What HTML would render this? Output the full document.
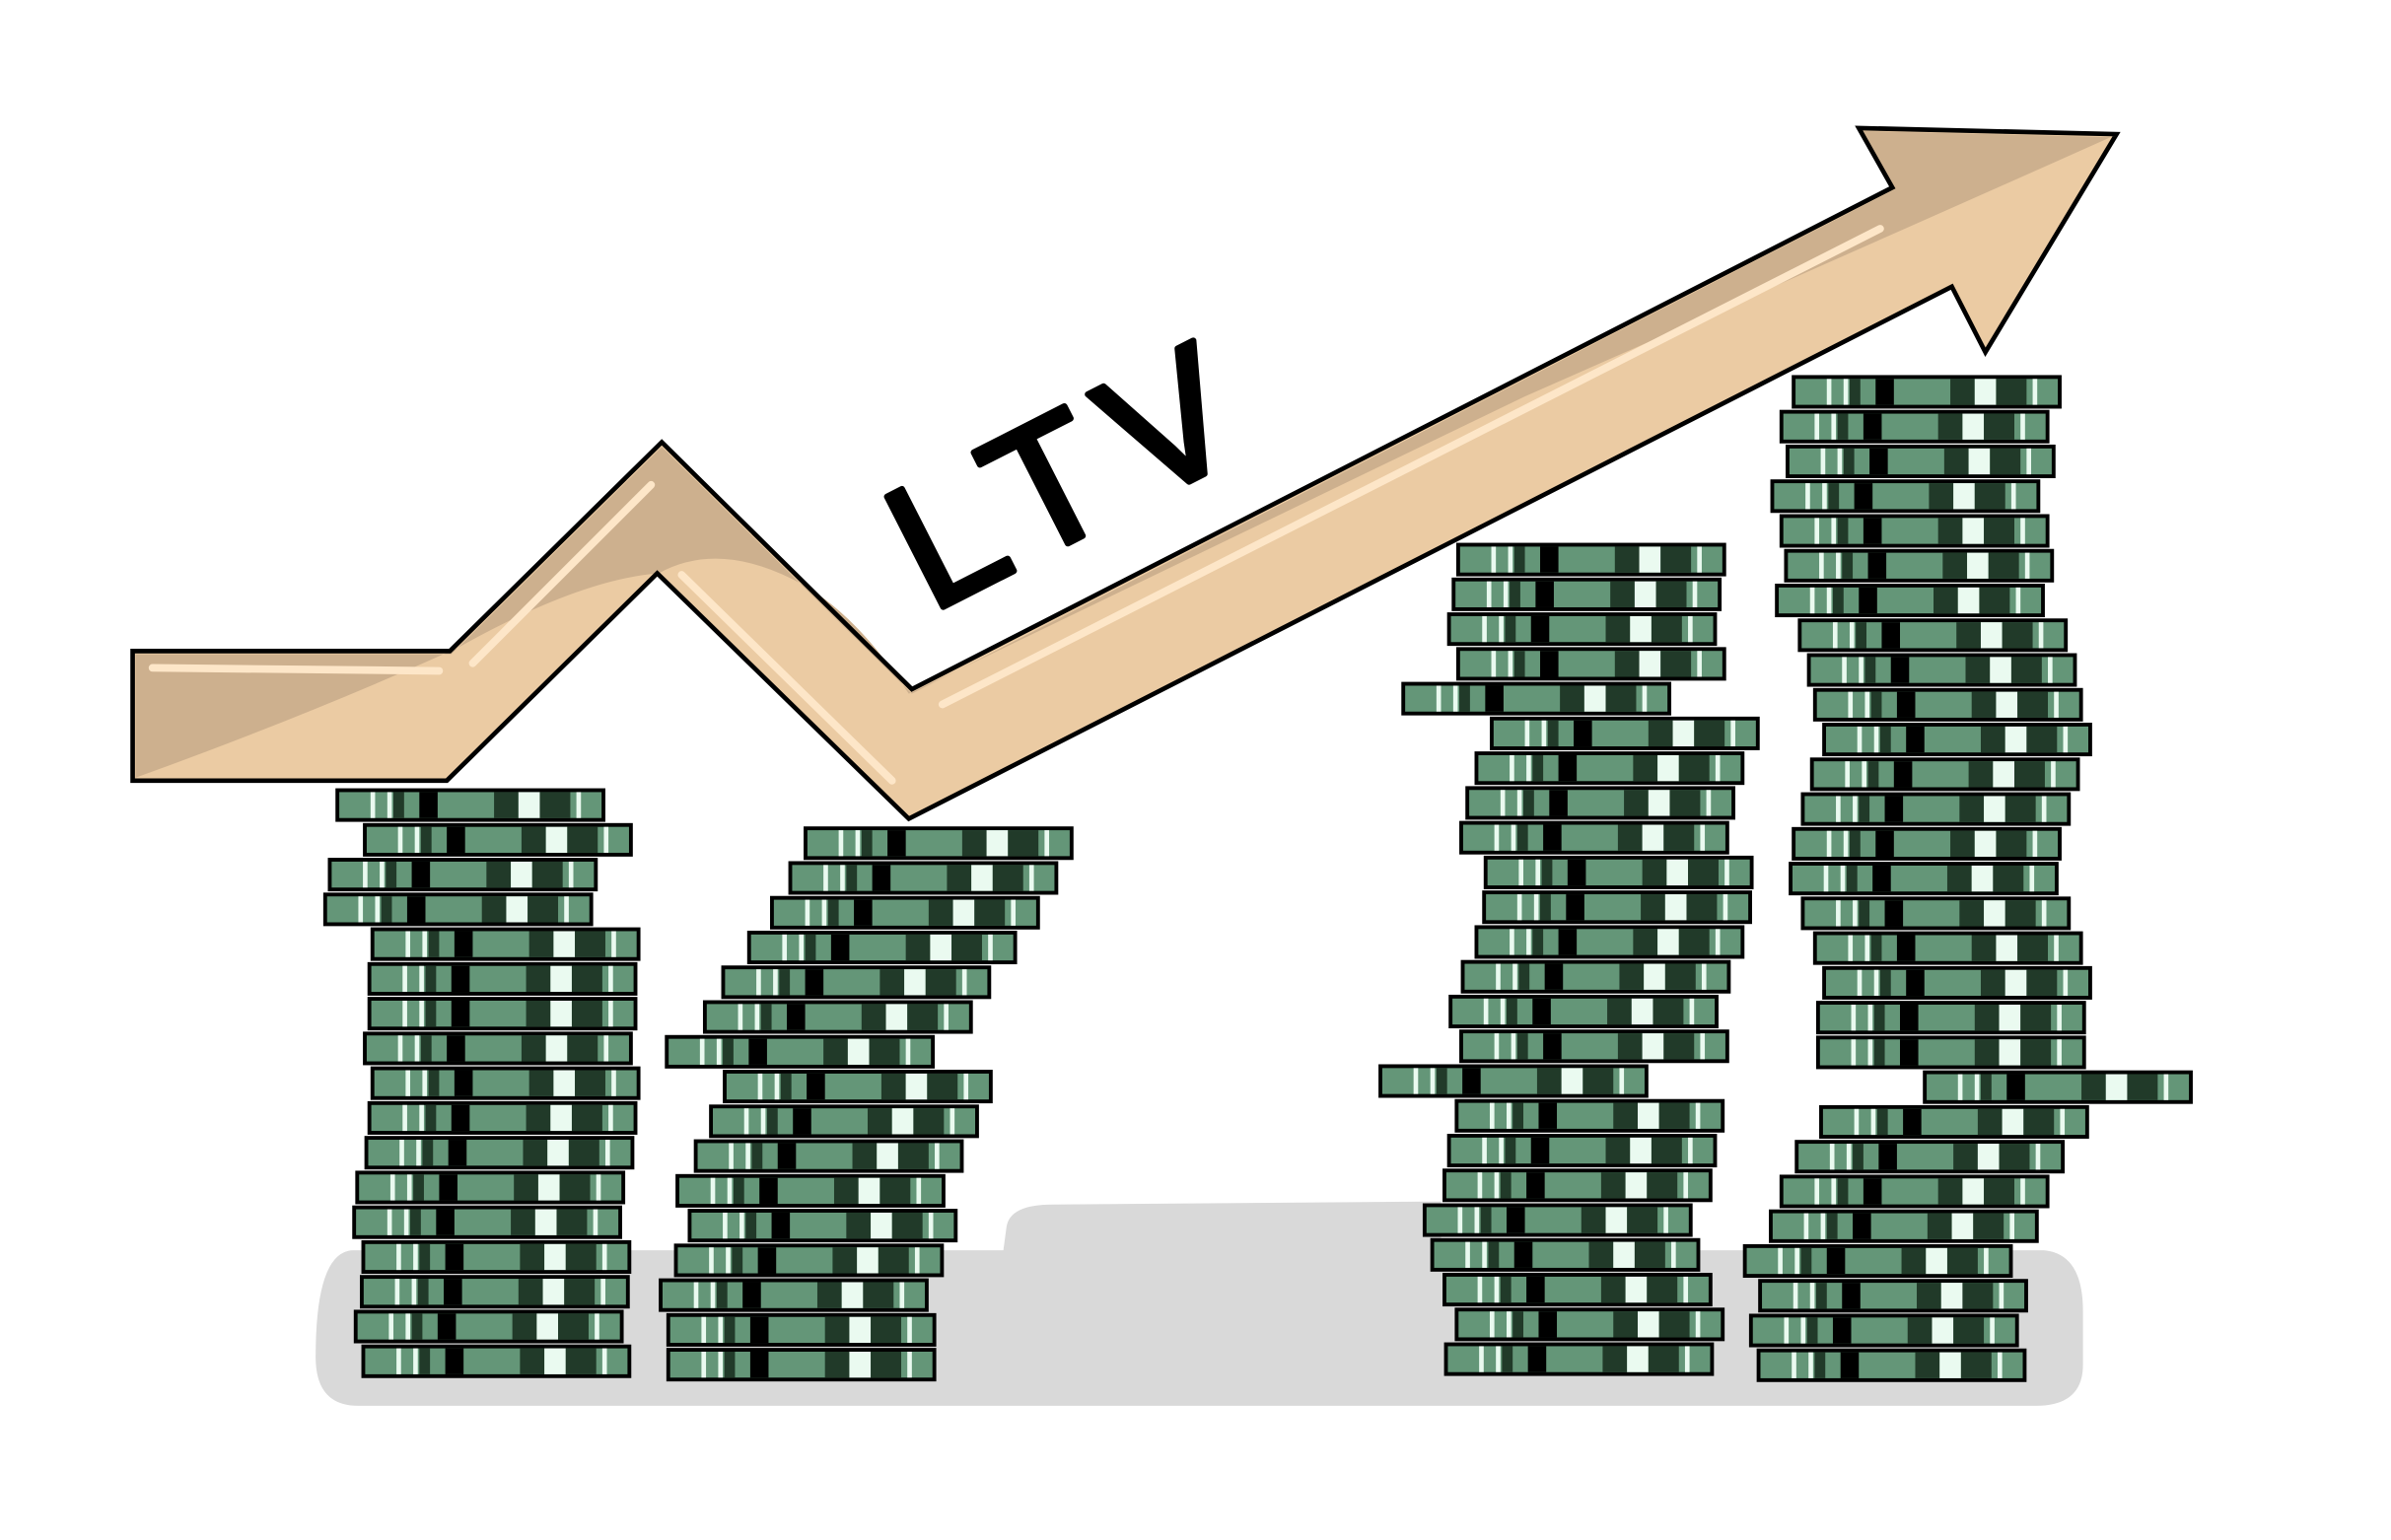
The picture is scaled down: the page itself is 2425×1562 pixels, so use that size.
<!DOCTYPE html>
<html><head><meta charset="utf-8"><style>
html,body{margin:0;padding:0;background:#fff;}
svg{display:block;}
</style></head><body>
<svg id="art" width="2425" height="1562" viewBox="0 0 1568 1010" preserveAspectRatio="none" xmlns="http://www.w3.org/2000/svg">
  <path fill="#d9d9d9" d="M232,820 L658,820 L660,805 Q662,790 690,790 L945,788 L945,820 L1340,820 Q1366,822 1366,860 L1366,895 Q1366,922 1335,922 L235,922 Q207,922 207,890 Q207,820 232,820 Z"/>
  <g id="stacks"></g>
  <g>
    <path fill="#ebcba3" d="M87,427 L295,427 L434,290 L598,452 L1241,123 L1219,84 L1388,88 L1302,231 L1280,188 L596,537 L431,376 L293,512 L87,512 Z"/>
    <path fill="#cdb08e" d="M89,429 L296,429 L434,293 L598,455 L1243,124 L1222,86 L1384,90 Q1250,150 1000,260 L596,455 Q560,400 520,380 Q470,355 432,376 Q380,380 300,425 Q200,470 89,510 Z"/>
    <path fill="none" stroke="#000" stroke-width="3" stroke-linejoin="miter" d="M87,427 L295,427 L434,290 L598,452 L1241,123 L1219,84 L1388,88 L1302,231 L1280,188 L596,537 L431,376 L293,512 L87,512 Z"/>
    <g stroke="#fde6c8" stroke-width="5" stroke-linecap="round" fill="none">
      <line x1="100" y1="438" x2="288" y2="440"/>
      <line x1="310" y1="435" x2="427" y2="318"/>
      <line x1="447" y1="377" x2="585" y2="512"/>
      <line x1="618" y1="462" x2="1233" y2="150"/>
    </g>
  </g>
  <text x="0" y="0" transform="translate(707,318) rotate(-27)" text-anchor="middle" dominant-baseline="middle" font-family="'Liberation Sans', sans-serif" font-size="118" letter-spacing="14" fill="#000" stroke="#000" stroke-width="4" stroke-linejoin="round">LTV</text>
</svg>
<script>
// per-stack bill left-x offsets (top to bottom)
const stackTops = [517, 542, 356, 246];
const stack1 = [220,238,215,212,243,241,241,238,243,241,239,233,231,237,236,232,237];
const stack2 = [527,517,505,490,473,461,436,474,465,455,443,451,442,432,437,437];
const stack3 = [955,952,949,955,919,977,967,961,957,973,972,967,958,950,957,904,954,949,946,933,938,946,954,947];
const stack4 = [1175,1167,1171,1161,1167,1170,1164,1179,1185,1189,1195,1187,1181,1175,1173,1181,1189,1195,1191,1191,1261,1193,1177,1167,1160,1143,1153,1147,1152];
const stacks = [stack1, stack2, stack3, stack4];
const NS = 'http://www.w3.org/2000/svg';
const W = 177, H = 22, STEP = 22.8;
const root = document.getElementById('stacks');
function r(g, x, y, w, h, fill){
  const e = document.createElementNS(NS,'rect');
  e.setAttribute('x',x);e.setAttribute('y',y);e.setAttribute('width',w);e.setAttribute('height',h);e.setAttribute('fill',fill);
  g.appendChild(e);
}
stacks.forEach((s, si) => {
  const sg = document.createElementNS(NS,'g');
  
  
  root.appendChild(sg);
  s.forEach((x, i) => {
    const y = stackTops[si] + i*STEP;
    const g = document.createElementNS(NS,'g');
    
    
    r(g, x, y, W, H, '#000');
    const iy = y+2.5, ih = H-5;
    r(g, x+2.5, iy, W-5, ih, '#649678');
    r(g, x+23, iy, 3, ih, '#eafaf0');
    r(g, x+34, iy, 3, ih, '#eafaf0');
    r(g, x+38, iy, 7, ih, '#213a29');
    r(g, x+55, iy, 12, ih, '#000');
    r(g, x+104, iy, 16, ih, '#213a29');
    r(g, x+120, iy, 14, ih, '#eafaf0');
    r(g, x+134, iy, 20, ih, '#213a29');
    r(g, x+158, iy, 3, ih, '#eafaf0');
    sg.appendChild(g);
  });
});
</script>
</body></html>
